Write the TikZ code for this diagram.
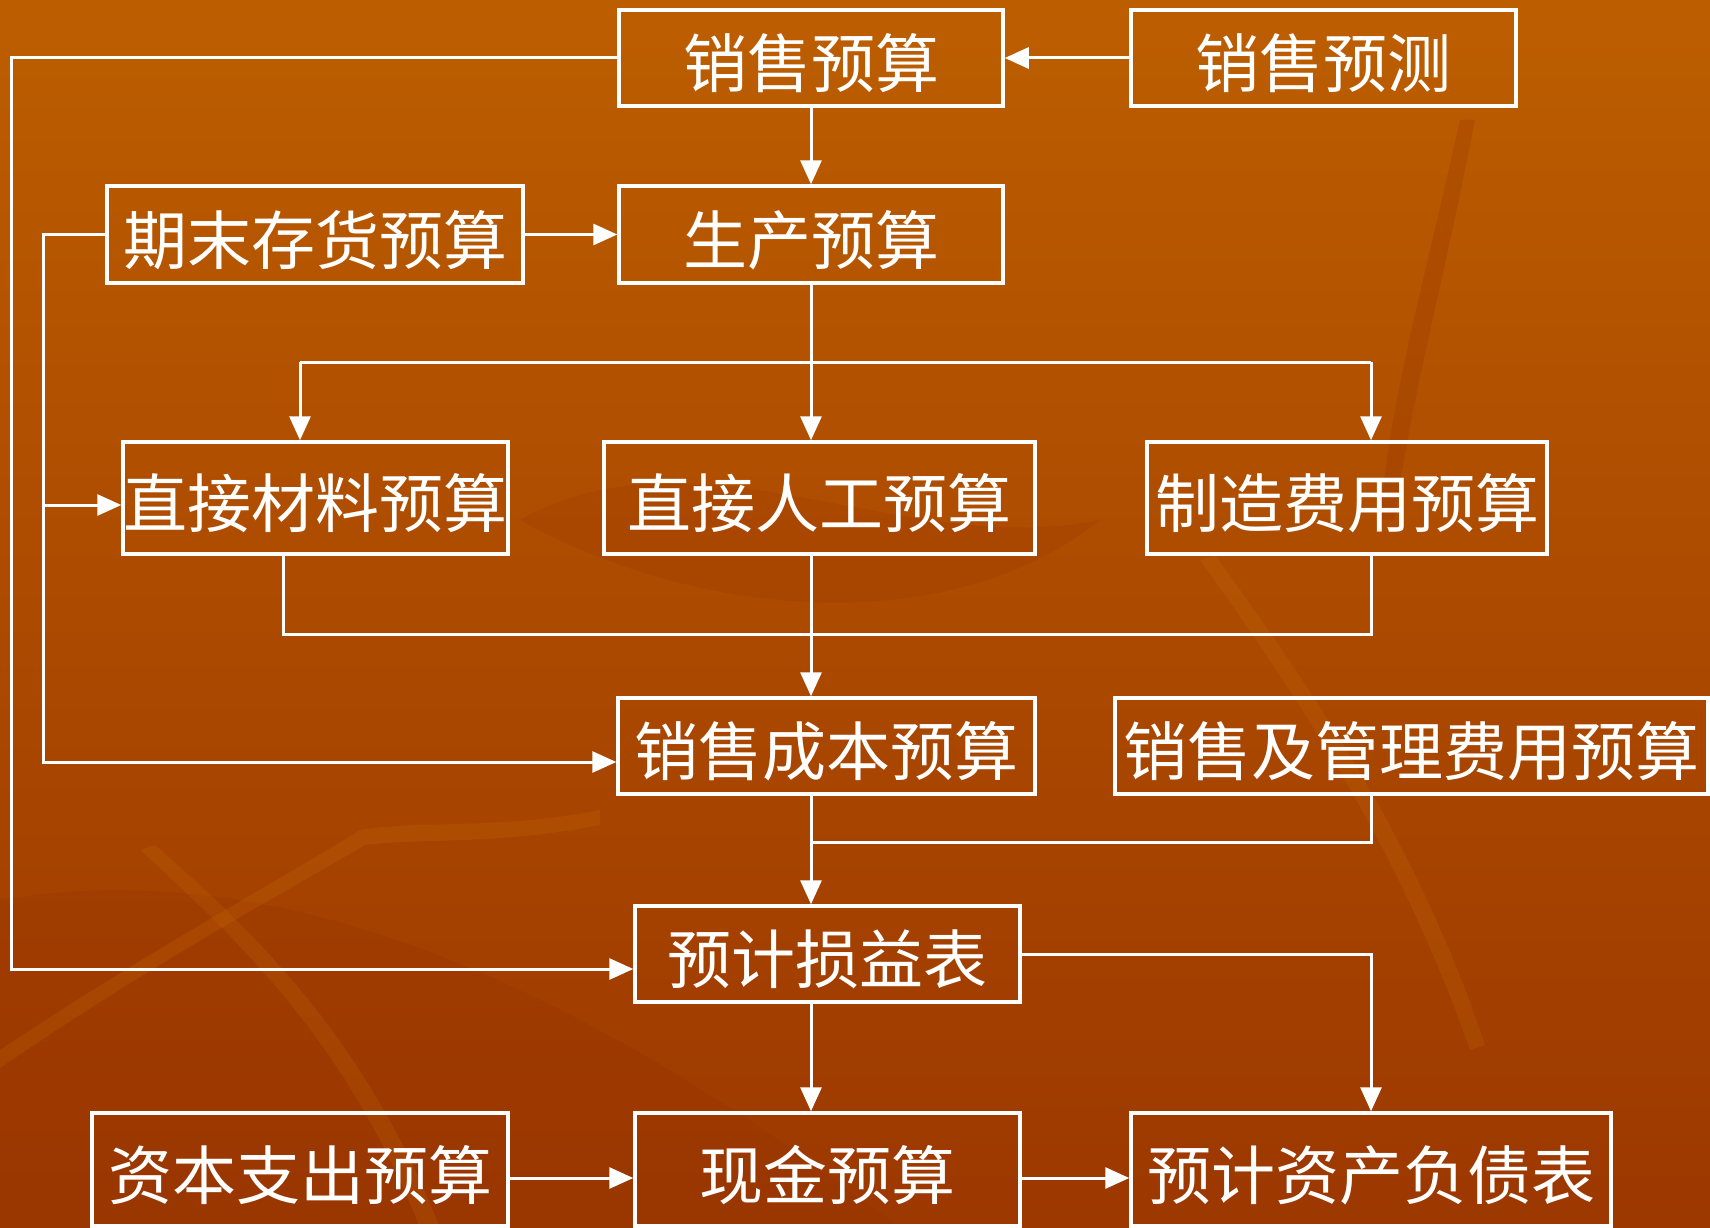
\documentclass[tikz,border=0pt]{standalone}
\usepackage{fontspec}
\newfontfamily\cjk{Noto Sans CJK SC}
\usetikzlibrary{arrows.meta,calc}
\definecolor{bgtop}{RGB}{188,94,0}
\definecolor{bgmid}{RGB}{172,74,0}
\definecolor{bgbot}{RGB}{156,56,0}
\definecolor{streak}{RGB}{200,110,10}
\definecolor{shadow}{RGB}{150,50,0}
\begin{document}
\begin{tikzpicture}[x=1pt,y=-1pt,
  box/.style={draw=white, line width=3.5pt, inner sep=0pt, text=white,
    font=\cjk\fontsize{64}{64}\selectfont, text height=62pt, text depth=3pt},
  ln/.style={draw=white, line width=3pt},
  arr/.style={ln, -{Triangle[length=24pt,width=21pt]}}]
% background
\useasboundingbox (0,0) rectangle (1710,1228);
\shade[top color=bgtop, bottom color=bgbot, middle color=bgmid] (0,0) rectangle (1710,1228);
\fill[shadow, opacity=0.3] (0,1228) -- (0,900) .. controls (300,850) and (600,1000) .. (900,1228) -- cycle;
\fill[shadow, opacity=0.2] (520,520) .. controls (700,420) and (900,560) .. (1100,520) .. controls (950,640) and (700,620) .. (520,520) -- cycle;
\fill[shadow, opacity=0.25] (1460,120) .. controls (1420,300) and (1390,400) .. (1380,520) -- (1395,520) .. controls (1410,400) and (1440,300) .. (1475,120) -- cycle;
\fill[streak, opacity=0.2] (1200,560) .. controls (1300,700) and (1400,850) .. (1470,1050) -- (1485,1045) .. controls (1420,850) and (1320,700) .. (1215,555) -- cycle;
\fill[streak, opacity=0.22] (0,1050) .. controls (150,950) and (280,880) .. (360,830) .. controls (420,820) and (500,830) .. (600,810) -- (600,825) .. controls (500,845) and (420,838) .. (365,845) .. controls (280,895) and (150,965) .. (0,1068) -- cycle;
\fill[streak, opacity=0.2] (140,850) .. controls (250,950) and (350,1050) .. (420,1228) -- (440,1228) .. controls (370,1050) and (270,945) .. (155,845) -- cycle;

% nodes
\node[box, minimum width=384pt, minimum height=96pt] (sb) at (811,58) {销售预算};
\node[box, minimum width=385pt, minimum height=96pt] (sp) at (1323.5,58) {销售预测};
\node[box, minimum width=416pt, minimum height=97pt] (qm) at (315,234.5) {期末存货预算};
\node[box, minimum width=384pt, minimum height=97pt] (sc) at (811,234.5) {生产预算};
\node[box, minimum width=385pt, minimum height=112pt] (zc) at (315.5,498) {直接材料预算};
\node[box, minimum width=431pt, minimum height=112pt] (zr) at (819.5,498) {直接人工预算};
\node[box, minimum width=400pt, minimum height=112pt] (zz) at (1347,498) {制造费用预算};
\node[box, minimum width=417pt, minimum height=96pt] (xc) at (826.5,746) {销售成本预算};
\node[box, minimum width=593pt, minimum height=96pt] (xg) at (1411.5,746) {销售及管理费用预算};
\node[box, minimum width=385pt, minimum height=96pt] (sy) at (827.5,954) {预计损益表};
\node[box, minimum width=416pt, minimum height=113pt] (zb) at (300,1169.5) {资本支出预算};
\node[box, minimum width=385pt, minimum height=113pt] (xj) at (827.5,1169.5) {现金预算};
\node[box, minimum width=480pt, minimum height=113pt] (zf) at (1371,1169.5) {预计资产负债表};

% helper coordinates
\coordinate (c1) at (11,969);
\coordinate (c2) at (43,762);
\coordinate (c3) at (43,505);
\coordinate (c5) at (300,362);
\coordinate (c6) at (1371,362);
\coordinate (c7) at (283,634);
\coordinate (c8) at (1371,634);
\coordinate (c9) at (1371,842);
\coordinate (c10) at (0,1178);

% connectors
\draw[arr] (sp.west) -- (sb.east);
\draw[arr] (sb.south) -- (sc.north);
\draw[arr] (qm.east) -- (sc.west);
\draw[arr] (sb.west) -| (c1) -- (c1 -| sy.west);
\draw[arr] (qm.west) -| (c2) -- (c2 -| xc.west);
\draw[arr] (c3) -- (c3 -| zc.west);
\draw[arr] (sc.south) -- (sc.south |- zr.north);
\draw[ln] (c5) -- (c6);
\draw[arr] (c5) -- (c5 |- zc.north);
\draw[arr] (c6) -- (c6 |- zz.north);
\draw[ln] (c7 |- zc.south) -- (c7) -- (c8) -- (c8 |- zz.south);
\draw[arr] (sc.south |- zr.south) -- (sc.south |- xc.north);
\draw[ln] (c9 |- xg.south) -- (c9) -- (c9 -| sc.south);
\draw[arr] (sc.south |- xc.south) -- (sc.south |- sy.north);
\draw[arr] (sc.south |- sy.south) -- (sc.south |- xj.north);
\draw[arr] (sy.east) -| (zf.north);
\draw[arr] (c10 -| zb.east) -- (c10 -| xj.west);
\draw[arr] (c10 -| xj.east) -- (c10 -| zf.west);
\end{tikzpicture}
\end{document}
